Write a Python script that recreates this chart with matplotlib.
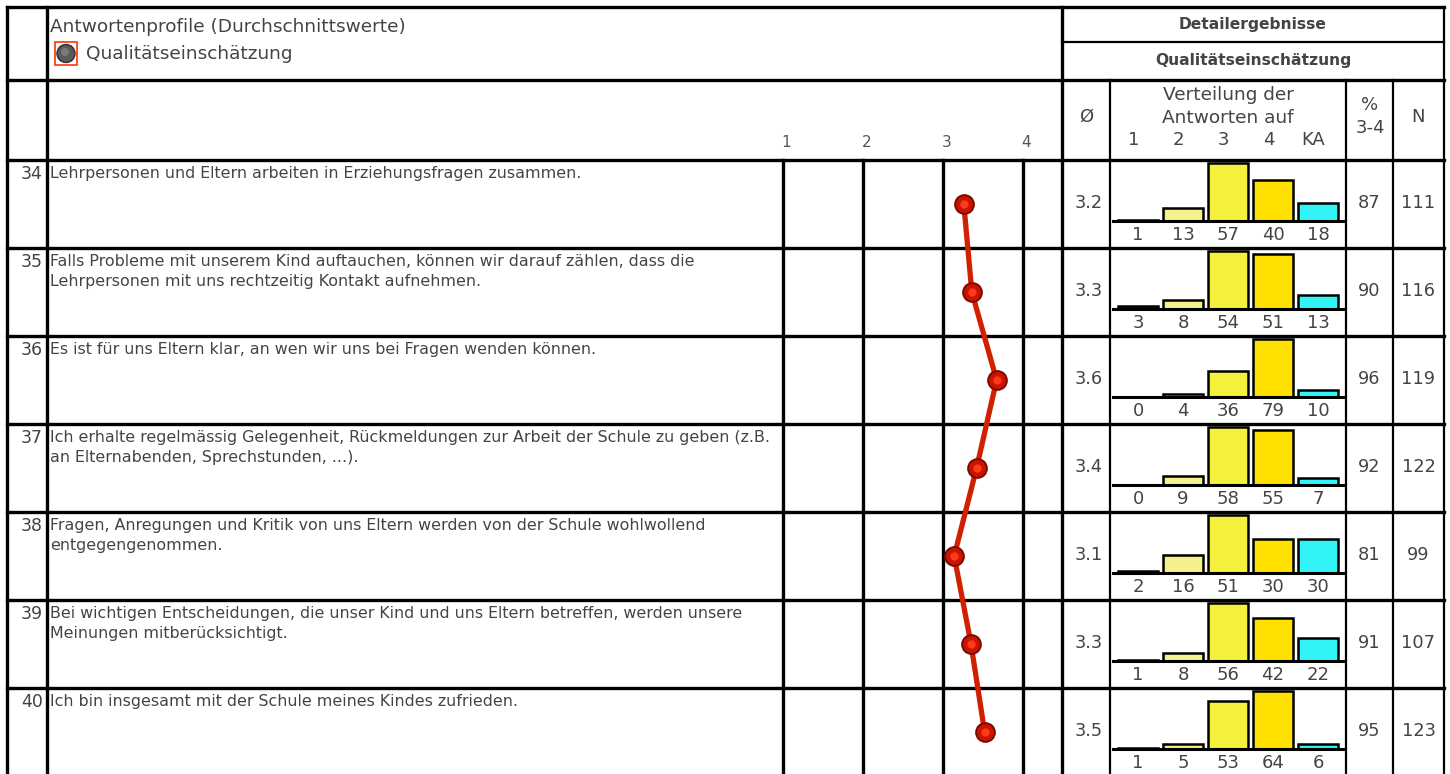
import numpy as np
import matplotlib.pyplot as plt
from matplotlib.patches import Rectangle, Circle
from matplotlib import transforms

plt.rcParams['font.family'] = ['DejaVu Sans']

item_nr = [34, 35, 36, 37, 38, 39, 40]
questions = [
    'Lehrpersonen und Eltern arbeiten in Erziehungsfragen zusammen.',
    'Falls Probleme mit unserem Kind auftauchen, können wir darauf zählen, dass die\n'
    'Lehrpersonen mit uns rechtzeitig Kontakt aufnehmen.',
    'Es ist für uns Eltern klar, an wen wir uns bei Fragen wenden können.',
    'Ich erhalte regelmässig Gelegenheit, Rückmeldungen zur Arbeit der Schule zu geben (z.B.\n'
    'an Elternabenden, Sprechstunden, ...).',
    'Fragen, Anregungen und Kritik von uns Eltern werden von der Schule wohlwollend\n'
    'entgegengenommen.',
    'Bei wichtigen Entscheidungen, die unser Kind und uns Eltern betreffen, werden unsere\n'
    'Meinungen mitberücksichtigt.',
    'Ich bin insgesamt mit der Schule meines Kindes zufrieden.',
]
mean_pos = [3.26, 3.36, 3.67, 3.42, 3.14, 3.35, 3.52]
mean_txt = ['3.2', '3.3', '3.6', '3.4', '3.1', '3.3', '3.5']
answer_cats = ['1', '2', '3', '4', 'KA']
counts = [
    [1, 13, 57, 40, 18],
    [3, 8, 54, 51, 13],
    [0, 4, 36, 79, 10],
    [0, 9, 58, 55, 7],
    [2, 16, 51, 30, 30],
    [1, 8, 56, 42, 22],
    [1, 5, 53, 64, 6],
]
pct34 = [87, 90, 96, 92, 81, 91, 95]
n_total = [111, 116, 119, 122, 99, 107, 123]
profile_ticks = [1, 2, 3, 4]

W, H = 1450, 774
ROW0, ROWH = 160, 88
TXT = '#444444'
bar_colors = ['#222222', '#f4f08a', '#f4f03c', '#ffe100', '#33f4f4']


def frac(x0, y0, x1, y1):
    return [x0 / W, 1 - y1 / H, (x1 - x0) / W, (y1 - y0) / H]


fig = plt.figure(figsize=(W / 100, H / 100), dpi=100)
base = fig.add_axes([0, 0, 1, 1])
base.set_xlim(0, W)
base.set_ylim(H, 0)
base.axis('off')

thick, thin = 2.4, 1.6
# table frame
base.plot([7, 1444], [7, 7], color='black', lw=thick)
for x in [7, 47, 1062]:
    base.plot([x, x], [7, H], color='black', lw=thick)
base.plot([1444, 1444], [7, H], color='black', lw=thin)
base.plot([1062, 1444], [42, 42], color='black', lw=thin)
base.plot([7, 1444], [80, 80], color='black', lw=thick)
base.plot([7, 1444], [160, 160], color='black', lw=thick)
for x in [1110, 1346, 1393]:
    base.plot([x, x], [80, H], color='black', lw=thin)
for i in range(1, len(item_nr)):
    y = ROW0 + i * ROWH
    base.plot([7, 1444], [y, y], color='black', lw=thick)

# header left
base.text(50, 27, 'Antwortenprofile (Durchschnittswerte)', fontsize=13.3, color=TXT, va='center')
base.add_patch(Rectangle((55, 42), 22, 23, fill=False, edgecolor='#ff3300', lw=1.2))
base.add_patch(Circle((66, 53.5), 9, facecolor='#5a5a5a', edgecolor='#2e2e2e', lw=1))
base.add_patch(Circle((65, 52), 4, facecolor='#7a7a7a', edgecolor='none'))
base.text(86, 54, 'Qualitätseinschätzung', fontsize=13.3, color=TXT, va='center')

# header right
base.text(1253, 24, 'Detailergebnisse', fontsize=11.2, fontweight='bold', color=TXT, ha='center', va='center')
base.text(1253, 61, 'Qualitätseinschätzung', fontsize=11.2, fontweight='bold', color=TXT, ha='center', va='center')
base.text(1086, 117, 'Ø', fontsize=13, color=TXT, ha='center', va='center')
base.text(1228, 95, 'Verteilung der', fontsize=13.3, color=TXT, ha='center', va='center')
base.text(1228, 118, 'Antworten auf', fontsize=13.3, color=TXT, ha='center', va='center')
base.text(1370, 105, '%', fontsize=13, color=TXT, ha='center', va='center')
base.text(1370, 128, '3-4', fontsize=13, color=TXT, ha='center', va='center')
base.text(1418, 117, 'N', fontsize=13, color=TXT, ha='center', va='center')

# rows: number, question, values
for i, nr in enumerate(item_nr):
    top = ROW0 + i * ROWH
    base.text(43, top + 14, str(nr), fontsize=12.5, color=TXT, ha='right', va='center')
    base.text(50, top + 6, questions[i], fontsize=11.4, color=TXT, ha='left', va='top', linespacing=1.4)
    base.text(1103, top + 43, mean_txt[i], fontsize=12.8, color=TXT, ha='right', va='center')
    base.text(1369.5, top + 43, str(pct34[i]), fontsize=12.8, color=TXT, ha='center', va='center')
    base.text(1418.5, top + 43, str(n_total[i]), fontsize=12.8, color=TXT, ha='center', va='center')

# profile chart
n_rows = (H - ROW0) / ROWH
ax_p = fig.add_axes(frac(783, ROW0, 1062, H))
ax_p.set_xlim(1, 1 + (1062 - 783) / 80)
ax_p.set_ylim(n_rows, 0)
ax_p.axis('off')
for t in profile_ticks:
    ax_p.axvline(t, color='black', lw=thick, clip_on=False)
    ax_p.text(t + 0.04, -0.2, str(t), fontsize=11, color='#555555', ha='center', va='center')
ypos = np.arange(len(item_nr)) + 0.5
ax_p.plot(mean_pos, ypos, color='#d02000', lw=3.8, zorder=3, clip_on=False)
ax_p.plot(mean_pos, ypos, ls='none', marker='o', ms=13.5,
          mfc='#c81400', mec='#7a0a00', mew=1.4, zorder=4, clip_on=False)
ax_p.plot(mean_pos, ypos, ls='none', marker='o', ms=6,
          mfc='#ff3a1a', mec='none', zorder=5, clip_on=False)

# distribution bars
xs = np.arange(len(answer_cats))
for i, row in enumerate(counts):
    top = ROW0 + i * ROWH
    ax_b = fig.add_axes(frac(1113, top + 3, 1344, top + 61))
    ax_b.set_xlim(-0.556, 4.578)
    ax_b.set_ylim(0, max(row))
    ax_b.axis('off')
    ax_b.bar(xs, row, width=0.87, color=bar_colors, edgecolor='black', lw=1.8, clip_on=False)
    ax_b.axhline(0, color='black', lw=2.2, clip_on=False)
    trans = transforms.blended_transform_factory(ax_b.transData, ax_b.transAxes)
    for j, v in enumerate(row):
        ax_b.text(xs[j], -14 / 58, str(v), fontsize=13, color=TXT, ha='center', va='center',
                  transform=trans, clip_on=False)
    if i == 0:
        for j, c in enumerate(answer_cats):
            ax_b.text(xs[j] - 0.1, (221 - 140) / 58, c, fontsize=13, color=TXT,
                      ha='center', va='center', transform=trans, clip_on=False)

fig.savefig('out.png', dpi=100)
